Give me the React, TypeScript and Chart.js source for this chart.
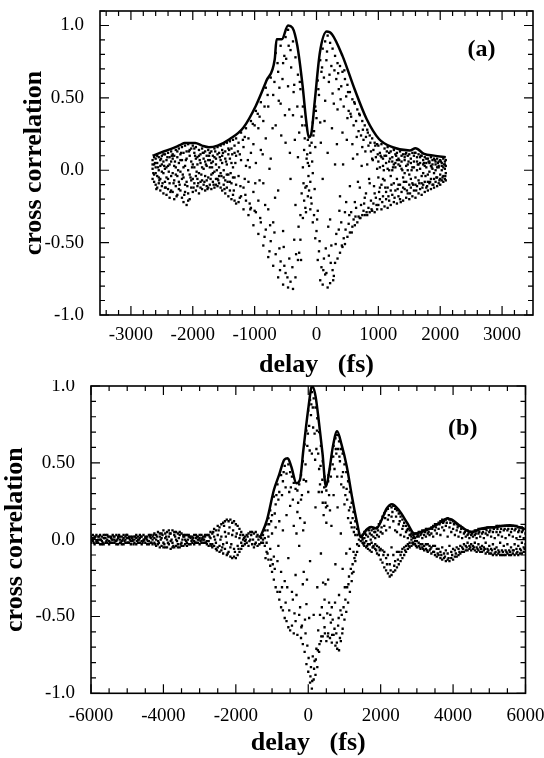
import React, { useEffect, useRef } from "react";
import { Chart, registerables } from "chart.js";

Chart.register(...registerables);

const SERIF = '"Liberation Serif", "DejaVu Serif", serif';

// ---------- Panel (a) ----------
const xTicksA = [-3000, -2000, -1000, 0, 1000, 2000, 3000];
const yTickValues = [-1, -0.5, 0, 0.5, 1];
const yTickLabels = ["-1.0", "-0.50", "0.0", "0.50", "1.0"];

// upper envelope (delay fs, correlation)
const envelopeA: number[][] = [
  [-2650, 0.1], [-2500, 0.125], [-2350, 0.147], [-2200, 0.175], [-2130, 0.188], [-1960, 0.188],
  [-1850, 0.17], [-1740, 0.159], [-1600, 0.17], [-1400, 0.216], [-1180, 0.296], [-980, 0.446],
  [-810, 0.618], [-675, 0.767], [-645, 0.905], [-560, 0.905], [-460, 1.0], [-390, 0.985],
  [-310, 0.86], [-225, 0.584], [-170, 0.354], [-125, 0.227], [-85, 0.25], [-30, 0.469],
  [55, 0.813], [165, 0.958], [250, 0.94], [420, 0.79], [615, 0.561], [810, 0.354],
  [1010, 0.216], [1230, 0.159], [1510, 0.136], [1600, 0.152], [1740, 0.113], [1900, 0.101], [2090, 0.09],
];

// sampled points: [delay, value, value, ...]
const dotsALeft: number[][] = [
  [-2650, 0.07, 0.01, -0.06, 0.04], [-2625, 0.04, -0.03, -0.08, 0.09], [-2600, 0.08, 0.02, -0.1, -0.02],
  [-2575, 0.05, -0.04, -0.12, 0.1], [-2550, 0.09, 0.0, -0.09, -0.05], [-2525, 0.03, -0.06, -0.14, 0.07],
  [-2500, 0.1, 0.04, -0.11, -0.01], [-2475, 0.06, -0.02, -0.16, 0.11], [-2450, 0.11, 0.01, -0.08, -0.12],
  [-2425, 0.07, -0.05, -0.17, 0.02], [-2400, 0.12, 0.03, -0.13, -0.06], [-2375, 0.04, -0.09, -0.19, 0.09],
  [-2350, 0.13, 0.06, -0.04, -0.14], [-2325, 0.08, -0.02, -0.15, 0.11], [-2300, 0.1, -0.07, -0.2, 0.03],
  [-2275, 0.14, 0.02, -0.11, -0.03], [-2250, 0.09, -0.04, -0.17, 0.13], [-2225, 0.15, 0.05, -0.08, -0.13],
  [-2200, 0.11, -0.01, -0.14, 0.07], [-2175, 0.16, 0.07, -0.19, -0.06], [-2150, 0.12, -0.05, -0.22, 0.02],
  [-2125, 0.17, 0.03, -0.1, -0.15], [-2100, 0.13, -0.08, -0.24, 0.08], [-2075, 0.18, 0.0, -0.16, -0.21],
  [-2050, 0.1, -0.03, -0.2, 0.14], [-2025, 0.15, 0.06, -0.12, -0.07], [-2000, 0.17, -0.06, -0.15, 0.04],
  [-1975, 0.12, 0.02, -0.09, 0.15], [-1950, 0.16, -0.04, -0.14, 0.08], [-1925, 0.09, 0.04, -0.11, -0.06],
  [-1900, 0.14, -0.02, -0.16, 0.1], [-1875, 0.11, 0.05, -0.08, -0.12], [-1850, 0.15, -0.07, -0.13, 0.02],
  [-1825, 0.08, 0.01, -0.1, 0.12], [-1800, 0.13, -0.04, -0.14, 0.06], [-1775, 0.1, 0.03, -0.07, -0.11],
  [-1750, 0.14, -0.05, -0.12, 0.07], [-1725, 0.07, 0.02, -0.1, 0.12], [-1700, 0.13, -0.03, -0.13, 0.05],
  [-1675, 0.1, 0.06, -0.08, -0.02], [-1650, 0.15, -0.01, -0.12, 0.09], [-1625, 0.08, 0.04, -0.1, -0.06],
  [-1600, 0.16, -0.06, -0.11, 0.11], [-1575, 0.12, 0.02, -0.09, -0.04], [-1550, 0.17, -0.02, -0.12, 0.07],
  [-1525, 0.1, 0.05, -0.14, 0.14], [-1500, 0.18, 0.0, -0.1, -0.05], [-1475, 0.13, -0.07, -0.16, 0.08],
  [-1450, 0.19, 0.04, -0.12, -0.03], [-1425, 0.11, -0.03, -0.18, 0.15], [-1400, 0.2, 0.08, -0.14, -0.08],
  [-1375, 0.15, -0.09, -0.2, 0.05], [-1350, 0.21, 0.02, -0.17, -0.05], [-1325, 0.12, -0.05, -0.21, 0.17],
  [-1300, 0.22, 0.1, -0.23, -0.1],
];

const dotsALeftExtra: number[][] = [
  [-2638, -0.02], [-2611, 0.05], [-2589, -0.13], [-2562, 0.02], [-2541, -0.07], [-2513, 0.08], [-2489, -0.09],
  [-2462, 0.03], [-2437, -0.12], [-2411, 0.09], [-2388, -0.01], [-2362, -0.15], [-2339, 0.1], [-2311, -0.09],
  [-2288, 0.06], [-2262, -0.18], [-2237, 0.0], [-2213, -0.1], [-2189, 0.12], [-2162, -0.03], [-2138, -0.17],
  [-2112, 0.07], [-2088, -0.11], [-2063, 0.13], [-2037, -0.05], [-2012, 0.02], [-1988, -0.12], [-1963, 0.1],
  [-1938, -0.01], [-1912, -0.09], [-1888, 0.07], [-1862, -0.03], [-1838, 0.12], [-1812, -0.08], [-1788, 0.04],
  [-1763, -0.13], [-1737, 0.1], [-1712, -0.06], [-1688, 0.02], [-1663, -0.1], [-1637, 0.13], [-1612, 0.0],
  [-1588, -0.07], [-1563, 0.09], [-1537, -0.04], [-1512, 0.12], [-1488, -0.13], [-1463, 0.06], [-1437, -0.08],
  [-1412, 0.14], [-1388, -0.02], [-1362, 0.11], [-1337, -0.14], [-1312, 0.05],
];

const dotsACenter: number[][] = [
  [-1260, 0.19, -0.04, -0.22], [-1220, 0.26, 0.07, -0.18], [-1180, 0.16, -0.12, -0.27], [-1140, 0.29, 0.03, -0.21],
  [-1100, 0.22, -0.08, -0.31], [-1060, 0.34, 0.12, -0.26], [-1020, 0.18, -0.15, -0.38], [-980, 0.41, 0.05, -0.29],
  [-940, 0.29, -0.21, -0.44], [-900, 0.47, 0.14, -0.36], [-860, 0.34, -0.09, -0.52], [-820, 0.57, 0.22, -0.41],
  [-780, 0.44, -0.27, -0.6], [-740, 0.64, 0.08, -0.49], [-700, 0.52, -0.36, -0.66], [-660, 0.81, 0.31, -0.58],
  [-620, 0.68, -0.14, -0.74], [-580, 0.86, 0.46, -0.63], [-540, 0.74, -0.42, -0.79], [-500, 0.92, 0.19, -0.71],
  [-460, 0.97, 0.58, -0.81], [-420, 0.83, -0.06, -0.77], [-380, 0.89, 0.38, -0.82], [-340, 0.78, -0.24, -0.74],
  [-300, 0.66, 0.09, -0.62], [-260, 0.56, -0.31, -0.48], [-220, 0.44, 0.02, -0.33], [-180, 0.31, -0.12, -0.26],
  [-140, 0.21, 0.05, -0.18], [-100, 0.12, -0.08, -0.27], [-60, 0.33, -0.02, -0.36], [-20, 0.44, 0.16, -0.47],
  [20, 0.62, -0.28, -0.62], [60, 0.76, 0.33, -0.76], [100, 0.84, -0.06, -0.79], [140, 0.89, 0.48, -0.72],
  [180, 0.93, 0.12, -0.81], [220, 0.88, -0.34, -0.78], [260, 0.84, 0.53, -0.69], [300, 0.79, 0.04, -0.64],
  [340, 0.74, 0.42, -0.61], [380, 0.72, -0.18, -0.57], [420, 0.68, 0.26, -0.53], [460, 0.63, -0.29, -0.51],
  [500, 0.59, 0.36, -0.46], [540, 0.54, -0.11, -0.43], [580, 0.49, 0.18, -0.39], [620, 0.46, -0.22, -0.38],
  [660, 0.42, 0.11, -0.36], [700, 0.38, -0.12, -0.33], [740, 0.34, 0.16, -0.31], [780, 0.31, -0.19, -0.31],
  [820, 0.28, 0.04, -0.31], [860, 0.24, -0.09, -0.29], [900, 0.22, 0.08, -0.28], [940, 0.19, -0.16, -0.29],
  [980, 0.18, 0.01, -0.27],
];

const dotsACenterExtra: number[][] = [
  [-1240, 0.11, -0.19], [-1160, 0.23, -0.06], [-1080, 0.02, -0.23], [-1000, 0.31, -0.28], [-920, -0.07, 0.37],
  [-840, 0.44, -0.46], [-760, 0.01, -0.56], [-680, 0.61, -0.43], [-600, 0.57, -0.54], [-520, 0.79, -0.66],
  [-440, 0.42, -0.61], [-360, 0.59, -0.48], [-280, 0.26, -0.57], [-240, 0.37, -0.16], [-200, 0.14, -0.21],
  [-160, 0.08, -0.11], [-120, 0.03, -0.14], [-80, 0.19, -0.23], [-40, 0.27, -0.31], [0, 0.36, -0.42],
  [40, 0.52, -0.56], [80, 0.68, -0.67], [120, 0.64, -0.61], [160, 0.76, -0.71], [200, 0.61, -0.59],
  [240, 0.72, -0.52], [280, 0.46, -0.73], [320, 0.63, -0.44], [360, 0.56, -0.41], [400, 0.58, -0.36],
  [440, 0.44, -0.47], [480, 0.51, -0.22], [520, 0.41, -0.37], [560, 0.37, -0.29], [600, 0.31, -0.34],
  [640, 0.34, -0.26], [680, 0.27, -0.32], [720, 0.24, -0.24], [760, 0.21, -0.28], [800, 0.23, -0.16],
  [840, 0.17, -0.26], [880, 0.13, -0.21], [920, 0.14, -0.23], [960, 0.09, -0.19],
  [-1270, 0.13], [-1230, -0.11], [-1190, 0.21], [-1150, -0.17], [-1110, 0.07], [-1070, -0.27], [-1030, 0.32],
  [-990, -0.09], [-950, 0.39], [-910, -0.33], [-870, 0.11], [-830, -0.24], [-790, 0.52], [-750, -0.38],
  [-710, 0.29], [-670, -0.19], [-630, 0.74], [-610, 0.48], [-590, -0.69], [-570, 0.24], [-550, 0.63],
  [-530, -0.53], [-510, 0.38], [-490, 0.77], [-470, -0.74], [-450, 0.86], [-430, 0.12], [-410, 0.71],
  [-390, -0.67], [-370, 0.54], [-350, 0.21], [-330, -0.58], [-310, 0.44], [-290, -0.39], [-270, 0.61],
  [-250, -0.62], [-230, 0.31], [-210, -0.09], [-190, 0.22], [-170, -0.29], [-150, 0.11], [-130, -0.04],
  [-110, 0.17], [-90, -0.19], [-70, 0.06], [-50, 0.24], [-30, -0.13], [-10, 0.41], [10, -0.34],
  [30, 0.56], [50, -0.49], [70, 0.19], [90, 0.71], [110, -0.69], [130, 0.34], [150, -0.54], [170, 0.82],
  [190, -0.39], [210, 0.66], [230, -0.64], [250, 0.29], [270, -0.76], [290, 0.69], [310, -0.51], [330, 0.18],
  [350, 0.67], [370, -0.28], [390, 0.49], [410, -0.52], [430, 0.04], [450, 0.69], [470, -0.41], [490, 0.21],
  [510, 0.54], [530, -0.31], [550, 0.39], [570, -0.43], [590, 0.08], [610, 0.47], [630, -0.32], [650, 0.23],
  [670, -0.08], [690, 0.39], [710, -0.33], [730, 0.03], [750, 0.28], [770, -0.23], [790, 0.13], [810, -0.29],
  [830, 0.26], [850, -0.06], [870, 0.19], [890, -0.27], [910, 0.07], [930, -0.11], [950, 0.17], [970, -0.24],
  [990, 0.11],
];

const dotsARight: number[][] = [
  [1000, 0.17, -0.05, -0.24, 0.06], [1025, 0.12, 0.02, -0.2, -0.12], [1050, 0.18, -0.1, -0.27, 0.09],
  [1075, 0.08, 0.03, -0.18, -0.06], [1100, 0.15, -0.07, -0.25, 0.1], [1125, 0.1, 0.05, -0.15, -0.2],
  [1150, 0.16, -0.12, -0.26, 0.01], [1175, 0.06, 0.0, -0.21, 0.12], [1200, 0.13, -0.04, -0.24, -0.14],
  [1225, 0.09, 0.06, -0.17, 0.0], [1250, 0.14, -0.09, -0.22, 0.04], [1275, 0.05, 0.02, -0.14, 0.11],
  [1300, 0.12, -0.06, -0.23, 0.07], [1325, 0.08, 0.04, -0.18, -0.1], [1350, 0.13, -0.1, -0.2, 0.03],
  [1375, 0.06, 0.01, -0.15, 0.1], [1400, 0.11, -0.05, -0.21, -0.12], [1425, 0.09, 0.07, -0.13, -0.02],
  [1450, 0.12, -0.08, -0.19, 0.03], [1475, 0.04, 0.0, -0.16, 0.1], [1500, 0.11, -0.03, -0.2, -0.1],
  [1525, 0.08, 0.05, -0.12, -0.06], [1550, 0.12, -0.09, -0.18, 0.02], [1575, 0.06, 0.02, -0.14, 0.1],
  [1600, 0.12, -0.05, -0.19, -0.1], [1625, 0.09, 0.06, -0.11, 0.0], [1650, 0.11, -0.07, -0.16, 0.04],
  [1675, 0.05, 0.01, -0.13, 0.09], [1700, 0.1, -0.04, -0.17, -0.09], [1725, 0.07, 0.04, -0.1, -0.02],
  [1750, 0.09, -0.08, -0.15, 0.03], [1775, 0.05, 0.02, -0.12, 0.08], [1800, 0.08, -0.03, -0.14, -0.08],
  [1825, 0.06, 0.05, -0.09, -0.01], [1850, 0.09, -0.06, -0.13, 0.03], [1875, 0.04, 0.01, -0.1, 0.07],
  [1900, 0.08, -0.02, -0.12, -0.06], [1925, 0.06, 0.04, -0.08, 0.0], [1950, 0.08, -0.05, -0.11, 0.02],
  [1975, 0.03, 0.02, -0.09, 0.06], [2000, 0.07, -0.03, -0.1, -0.06], [2025, 0.05, 0.03, -0.07, 0.0],
  [2050, 0.08, -0.04, -0.08, 0.02], [2075, 0.04, 0.01, -0.06, 0.06], [2090, 0.07, -0.02, -0.07, 0.03],
];

const dotsARightExtra: number[][] = [
  [1012, -0.15], [1037, 0.1], [1063, -0.22], [1088, 0.0], [1112, -0.12], [1137, 0.13], [1163, -0.18],
  [1188, 0.08], [1212, -0.1], [1237, 0.02], [1262, -0.19], [1288, 0.1], [1312, -0.13], [1337, 0.07],
  [1362, -0.22], [1388, 0.0], [1412, -0.08], [1437, 0.11], [1462, -0.14], [1488, 0.06], [1512, -0.16],
  [1537, 0.0], [1562, -0.1], [1588, 0.12], [1612, -0.14], [1637, 0.04], [1662, -0.09], [1688, 0.1],
  [1712, -0.12], [1737, 0.05], [1762, -0.04], [1788, -0.11], [1812, 0.06], [1837, -0.08], [1862, 0.02],
  [1888, -0.1], [1912, 0.07], [1937, -0.05], [1962, 0.05], [1987, -0.07], [2012, 0.06], [2037, -0.05],
  [2062, 0.04], [2082, -0.04],
];

// ---------- Panel (b) ----------
const xTicksB = [-6000, -4000, -2000, 0, 2000, 4000, 6000];

const envelopeB: number[][] = [
  [-1313, 0.022], [-1141, 0.127], [-949, 0.323], [-805, 0.421], [-662, 0.52], [-566, 0.53],
  [-470, 0.476], [-326, 0.367], [-230, 0.389], [-134, 0.585], [10, 0.869], [105, 1.0],
  [201, 0.934], [297, 0.76], [393, 0.563], [489, 0.345], [585, 0.454], [681, 0.607],
  [796, 0.705], [920, 0.618], [1064, 0.476], [1208, 0.279], [1352, 0.105], [1448, 0.017],
  [1592, 0.061], [1735, 0.083], [1879, 0.072], [2023, 0.127], [2167, 0.203], [2311, 0.231],
  [2502, 0.192], [2742, 0.105], [2934, 0.039], [3126, 0.05], [3365, 0.072], [3605, 0.105],
  [3845, 0.138], [3989, 0.127], [4228, 0.083], [4516, 0.05], [4803, 0.072], [5187, 0.083],
  [5570, 0.094], [5954, 0.072],
];

const dotsBLeft: number[][] = [
  [-6000, 0.02, -0.02, 0.0], [-5950, -0.01, 0.03, 0.01], [-5900, 0.01, -0.03, 0.02], [-5850, 0.03, -0.01, -0.02],
  [-5800, -0.02, 0.02, 0.0], [-5750, 0.0, -0.03, 0.03], [-5700, 0.02, -0.01, -0.03], [-5650, -0.03, 0.03, 0.01],
  [-5600, 0.01, -0.02, 0.03], [-5550, 0.03, 0.0, -0.02], [-5500, -0.01, -0.03, 0.02], [-5450, 0.02, 0.01, -0.02],
  [-5400, -0.02, 0.03, 0.0], [-5350, 0.0, -0.02, 0.02], [-5300, 0.03, -0.01, -0.03], [-5250, -0.03, 0.01, 0.02],
  [-5200, 0.02, -0.02, 0.0], [-5150, -0.01, 0.02, -0.03], [-5100, 0.01, -0.03, 0.03], [-5050, 0.02, 0.0, -0.02],
  [-5000, -0.02, 0.01, 0.03], [-4950, 0.01, -0.02, 0.02], [-4900, -0.01, 0.02, -0.03], [-4850, 0.02, -0.01, 0.0],
  [-4800, -0.02, 0.0, 0.02], [-4750, 0.01, -0.03, 0.03], [-4700, 0.0, 0.02, -0.02], [-4650, -0.02, 0.01, 0.03],
  [-4600, 0.02, -0.01, -0.03], [-4550, -0.01, 0.03, 0.0], [-4500, 0.01, -0.02, 0.02], [-4450, -0.03, 0.02, 0.0],
  [-4400, 0.03, -0.01, -0.03], [-4350, -0.02, 0.01, 0.03], [-4300, 0.02, -0.03, 0.0], [-4250, 0.04, -0.02, 0.01],
  [-4200, -0.04, 0.03, 0.0], [-4150, 0.05, -0.01, -0.03], [-4100, -0.05, 0.02, 0.04], [-4050, 0.04, -0.04, 0.01],
  [-4000, 0.06, -0.02, -0.05], [-3950, -0.05, 0.01, 0.04], [-3900, 0.05, -0.05, 0.0], [-3850, -0.03, 0.06, 0.02],
  [-3800, 0.04, -0.06, -0.01], [-3750, 0.06, -0.02, -0.05], [-3700, -0.05, 0.03, 0.05], [-3650, 0.05, -0.04, 0.0],
  [-3600, -0.03, 0.04, -0.05], [-3550, 0.03, -0.05, 0.05], [-3500, 0.04, -0.02, -0.04], [-3450, -0.04, 0.02, 0.03],
  [-3400, 0.03, -0.03, 0.0], [-3350, -0.02, 0.03, -0.04], [-3300, 0.02, -0.03, 0.03], [-3250, -0.03, 0.01, 0.02],
  [-3200, 0.02, -0.02, 0.0], [-3150, -0.01, 0.03, -0.03], [-3100, 0.03, -0.02, 0.01], [-3050, -0.02, 0.02, 0.0],
  [-3000, 0.01, -0.03, 0.03], [-2950, 0.03, 0.0, -0.02], [-2900, -0.02, 0.02, 0.0], [-2850, 0.02, -0.02, 0.03],
  [-2800, -0.01, 0.03, -0.03],
];

const dotsBLeftExtra: number[][] = [
  [-5975, 0.0], [-5925, -0.02], [-5875, 0.02], [-5825, -0.01], [-5775, 0.02], [-5725, 0.0], [-5675, -0.02],
  [-5625, 0.01], [-5575, -0.01], [-5525, 0.02], [-5475, -0.02], [-5425, 0.0], [-5375, 0.02], [-5325, -0.01],
  [-5275, 0.0], [-5225, 0.03], [-5175, -0.02], [-5125, 0.0], [-5075, -0.01], [-5025, 0.03], [-4975, -0.02],
  [-4925, 0.0], [-4875, 0.01], [-4825, -0.03], [-4775, 0.02], [-4725, -0.01], [-4675, 0.0], [-4625, 0.02],
  [-4575, -0.02], [-4525, 0.0], [-4475, 0.01], [-4425, -0.01], [-4375, 0.02], [-4325, -0.02], [-4275, 0.03],
  [-4225, -0.03], [-4175, 0.02], [-4125, -0.02], [-4075, 0.0], [-4025, 0.03], [-3975, -0.03], [-3925, 0.02],
  [-3875, -0.02], [-3825, 0.04], [-3775, 0.0], [-3725, -0.04], [-3675, 0.02], [-3625, -0.01], [-3575, 0.01],
  [-3525, -0.03], [-3475, 0.0], [-3425, 0.02], [-3375, -0.01], [-3325, 0.0], [-3275, 0.02], [-3225, -0.01],
  [-3175, 0.01], [-3125, -0.02], [-3075, 0.02], [-3025, 0.0], [-2975, -0.01], [-2925, 0.01], [-2875, 0.0],
  [-2825, -0.02],
];

const dotsBBump: number[][] = [
  [-2750, 0.03, -0.01, -0.04], [-2700, 0.05, 0.01, -0.03], [-2650, 0.04, -0.03, -0.05], [-2600, 0.07, 0.02, -0.04],
  [-2550, 0.06, -0.02, -0.06], [-2500, 0.09, 0.03, -0.05], [-2450, 0.08, -0.04, -0.08], [-2400, 0.1, 0.02, -0.07],
  [-2350, 0.11, -0.03, -0.09], [-2300, 0.12, 0.05, -0.06], [-2250, 0.13, -0.02, -0.1], [-2200, 0.12, 0.04, -0.08],
  [-2150, 0.13, -0.05, -0.11], [-2100, 0.11, 0.03, -0.12], [-2050, 0.12, -0.06, -0.11], [-2000, 0.1, 0.02, -0.12],
  [-1950, 0.09, -0.04, -0.1], [-1900, 0.07, 0.01, -0.08], [-1850, 0.05, -0.02, -0.06], [-1800, 0.03, 0.0, -0.04],
  [-1750, 0.02, -0.01, -0.03], [-1700, 0.03, -0.02], [-1650, 0.04, -0.04], [-1600, 0.05, 0.0],
  [-1550, -0.03, 0.05], [-1500, 0.04, -0.05], [-1450, 0.05, -0.02], [-1400, -0.04, 0.03],
  [-1350, 0.02, -0.03], [-1300, 0.01, -0.02],
  [-2725, 0.02], [-2675, -0.04], [-2625, 0.05], [-2575, 0.0], [-2525, -0.07], [-2475, 0.06], [-2425, 0.0],
  [-2375, -0.05], [-2325, 0.09], [-2275, 0.02], [-2225, -0.09], [-2175, 0.08], [-2125, -0.03], [-2075, 0.06],
  [-2025, -0.08], [-1975, 0.04], [-1925, -0.06], [-1875, 0.03], [-1825, -0.04], [-1775, 0.01], [-1725, 0.0],
  [-1675, 0.02], [-1625, -0.01], [-1575, 0.03], [-1525, 0.0], [-1475, -0.03], [-1425, 0.02], [-1375, 0.0],
  [-1325, 0.02],
];

const dotsBCenter: number[][] = [
  [-1250, 0.03, -0.02, 0.0], [-1200, 0.06, -0.04, 0.01], [-1150, 0.1, -0.08, -0.02], [-1100, 0.14, 0.02, -0.13],
  [-1050, 0.19, -0.06, -0.17], [-1000, 0.16, 0.04, -0.21], [-950, 0.28, -0.11, -0.26], [-900, 0.23, 0.08, -0.31],
  [-850, 0.36, -0.14, -0.34], [-800, 0.31, 0.12, -0.39], [-750, 0.42, -0.21, -0.44], [-700, 0.38, 0.06, -0.46],
  [-650, 0.48, -0.27, -0.51], [-600, 0.43, 0.16, -0.53], [-550, 0.49, -0.12, -0.57], [-500, 0.44, 0.22, -0.59],
  [-450, 0.41, -0.34, -0.56], [-400, 0.37, 0.09, -0.61], [-350, 0.33, -0.23, -0.53], [-300, 0.32, 0.18, -0.62],
  [-250, 0.36, -0.04, -0.49], [-200, 0.42, 0.26, -0.64], [-150, 0.51, -0.29, -0.68], [-100, 0.62, 0.11, -0.73],
  [-50, 0.71, -0.42, -0.81], [0, 0.84, 0.31, -0.86], [50, 0.91, -0.14, -0.93], [100, 0.96, 0.56, -0.97],
  [150, 0.92, -0.49, -0.91], [200, 0.86, 0.21, -0.88], [250, 0.79, -0.31, -0.83], [300, 0.7, 0.46, -0.73],
  [350, 0.61, -0.09, -0.66], [400, 0.51, 0.24, -0.63], [450, 0.41, -0.39, -0.57], [500, 0.32, 0.11, -0.66],
  [550, 0.38, -0.26, -0.61], [600, 0.46, 0.19, -0.64], [650, 0.54, -0.44, -0.67], [700, 0.61, 0.29, -0.62],
  [750, 0.66, -0.16, -0.69], [800, 0.68, 0.41, -0.71], [850, 0.64, -0.36, -0.72], [900, 0.59, 0.04, -0.66],
  [950, 0.56, -0.19, -0.58], [1000, 0.49, 0.23, -0.52], [1050, 0.44, -0.09, -0.47], [1100, 0.38, 0.14, -0.41],
  [1150, 0.31, -0.06, -0.34], [1200, 0.24, 0.08, -0.27], [1250, 0.18, -0.08, -0.21], [1300, 0.12, 0.03, -0.14],
  [1350, 0.07, -0.03, -0.08], [1400, 0.04, 0.0, -0.04], [1450, 0.02, -0.01],
];

const dotsBCenterExtra: number[][] = [
  [-1125, 0.06, -0.09], [-1025, 0.12, -0.13], [-925, 0.17, -0.19], [-825, -0.04, 0.26], [-725, 0.29, -0.31],
  [-625, 0.34, -0.41], [-525, 0.31, -0.46], [-425, 0.26, -0.39], [-325, 0.04, -0.36], [-225, 0.14, -0.44],
  [-175, 0.29, -0.56], [-125, 0.39, -0.21], [-75, 0.49, -0.61], [-25, 0.61, -0.69], [25, 0.74, -0.51],
  [75, 0.81, -0.83], [125, 0.86, -0.76], [175, 0.69, -0.79], [225, 0.59, -0.71], [275, 0.56, -0.59],
  [325, 0.36, -0.49], [375, 0.31, -0.44], [425, 0.16, -0.51], [475, 0.24, -0.29], [525, 0.22, -0.48],
  [575, 0.29, -0.41], [625, 0.41, -0.54], [675, 0.49, -0.52], [725, 0.46, -0.58], [775, 0.56, -0.61],
  [825, 0.59, -0.56], [875, 0.51, -0.64], [925, 0.41, -0.49], [975, 0.34, -0.44], [1025, 0.29, -0.39],
  [1075, 0.26, -0.31], [1125, 0.19, -0.24], [1175, 0.11, -0.19], [1225, 0.14, -0.16], [1275, 0.08, -0.12],
  [-1180, -0.12], [-1080, 0.1], [-980, -0.16], [-880, 0.29], [-780, -0.34], [-680, 0.44], [-580, -0.31],
  [-480, 0.34], [-380, -0.48], [-280, 0.24], [-190, -0.57], [-140, 0.06], [-90, -0.52], [-60, 0.38],
  [-35, -0.26], [-10, 0.69], [10, -0.77], [40, 0.58], [60, -0.89], [85, 0.88], [110, -0.92], [135, 0.73],
  [160, -0.84], [190, 0.52], [210, -0.78], [240, 0.71], [265, -0.72], [290, 0.31], [310, -0.68], [340, 0.48],
  [360, -0.63], [390, 0.39], [410, -0.28], [440, 0.34], [460, -0.61], [490, 0.21], [540, -0.63], [560, 0.42],
  [610, -0.49], [640, 0.09], [660, -0.62], [690, 0.54], [740, -0.41], [760, 0.59], [790, -0.67], [810, 0.21],
  [840, -0.51], [860, 0.54], [890, -0.46], [910, 0.36], [940, -0.61], [960, 0.44], [1010, -0.31], [1060, 0.33],
  [1110, -0.29], [1160, 0.21], [1210, -0.22], [1260, 0.05], [1310, -0.1], [1360, 0.03],
];

const dotsBRight: number[][] = [
  [1500, 0.03, -0.02, 0.0, 0.01], [1550, 0.05, -0.04, 0.01, -0.02], [1600, 0.06, -0.05, -0.01, 0.03],
  [1650, 0.07, 0.02, -0.06, -0.03], [1700, 0.08, -0.03, -0.07, 0.04], [1750, 0.06, 0.03, -0.08, -0.02],
  [1800, 0.07, -0.05, -0.04, 0.02], [1850, 0.05, 0.01, -0.06, -0.03], [1900, 0.08, -0.04, -0.09, 0.03],
  [1950, 0.1, 0.02, -0.1, -0.05], [2000, 0.12, -0.06, -0.13, 0.05], [2050, 0.15, 0.04, -0.15, -0.07],
  [2100, 0.17, -0.08, -0.18, 0.09], [2150, 0.19, 0.06, -0.2, -0.12], [2200, 0.2, -0.1, -0.22, 0.13],
  [2250, 0.22, 0.08, -0.24, -0.16], [2300, 0.21, -0.05, -0.23, 0.15], [2350, 0.22, 0.12, -0.21, -0.1],
  [2400, 0.2, -0.14, -0.2, 0.06], [2450, 0.19, 0.05, -0.18, -0.08], [2500, 0.17, -0.08, -0.16, 0.1],
  [2550, 0.15, 0.03, -0.14, -0.1], [2600, 0.13, -0.06, -0.12, 0.07], [2650, 0.11, 0.02, -0.1, -0.05],
  [2700, 0.09, -0.04, -0.08, 0.05], [2750, 0.07, 0.01, -0.06, -0.03], [2800, 0.06, -0.02, -0.05, 0.03],
  [2850, 0.04, 0.0, -0.04, 0.02], [2900, 0.03, -0.02, -0.03, 0.01], [2950, 0.04, 0.01, -0.03, -0.01],
  [3000, 0.04, -0.01, -0.05, 0.02], [3050, 0.05, 0.02, -0.04, -0.02], [3100, 0.05, -0.03, -0.06, 0.03],
  [3150, 0.06, 0.01, -0.05, -0.03], [3200, 0.06, -0.04, -0.07, 0.03], [3250, 0.07, 0.02, -0.06, -0.03],
  [3300, 0.07, -0.03, -0.08, 0.04], [3350, 0.07, 0.03, -0.07, -0.04], [3400, 0.08, -0.05, -0.09, 0.04],
  [3450, 0.09, 0.02, -0.08, -0.04], [3500, 0.1, -0.04, -0.1, 0.06], [3550, 0.1, 0.04, -0.11, -0.06],
  [3600, 0.11, -0.06, -0.1, 0.07], [3650, 0.12, 0.03, -0.12, -0.08], [3700, 0.13, -0.05, -0.13, 0.08],
  [3750, 0.12, 0.06, -0.12, -0.09], [3800, 0.13, -0.07, -0.14, 0.09], [3850, 0.14, 0.02, -0.13, -0.09],
  [3900, 0.13, -0.04, -0.14, 0.08], [3950, 0.13, 0.05, -0.12, -0.08], [4000, 0.12, -0.06, -0.13, 0.07],
  [4050, 0.11, 0.03, -0.11, -0.07], [4100, 0.1, -0.05, -0.11, 0.06], [4150, 0.09, 0.02, -0.1, -0.06],
  [4200, 0.09, -0.04, -0.09, 0.05], [4250, 0.08, 0.01, -0.08, -0.05], [4300, 0.07, -0.03, -0.08, 0.04],
  [4350, 0.06, 0.02, -0.07, -0.04], [4400, 0.06, -0.02, -0.07, 0.03], [4450, 0.05, 0.01, -0.06, -0.04],
  [4500, 0.05, -0.03, -0.07, 0.03], [4550, 0.05, 0.02, -0.06, -0.04], [4600, 0.06, -0.02, -0.07, 0.03],
  [4650, 0.06, 0.01, -0.08, -0.05], [4700, 0.07, -0.03, -0.07, 0.04], [4750, 0.07, 0.02, -0.08, -0.05],
  [4800, 0.07, -0.04, -0.08, 0.04], [4850, 0.07, 0.01, -0.07, -0.05], [4900, 0.07, -0.02, -0.09, 0.04],
  [4950, 0.08, 0.03, -0.08, -0.06], [5000, 0.08, -0.04, -0.09, 0.05], [5050, 0.08, 0.02, -0.09, -0.06],
  [5100, 0.08, -0.03, -0.1, 0.05], [5150, 0.08, 0.01, -0.09, -0.06], [5200, 0.09, -0.05, -0.1, 0.05],
  [5250, 0.09, 0.03, -0.09, -0.07], [5300, 0.09, -0.02, -0.1, 0.05], [5350, 0.09, 0.02, -0.1, -0.07],
  [5400, 0.09, -0.04, -0.1, 0.06], [5450, 0.09, 0.01, -0.1, -0.07], [5500, 0.09, -0.03, -0.09, 0.06],
  [5550, 0.09, 0.03, -0.1, -0.07], [5600, 0.09, -0.05, -0.1, 0.05], [5650, 0.09, 0.02, -0.09, -0.07],
  [5700, 0.09, -0.03, -0.1, 0.06], [5750, 0.09, 0.01, -0.09, -0.06], [5800, 0.08, -0.04, -0.1, 0.05],
  [5850, 0.08, 0.02, -0.09, -0.06], [5900, 0.08, -0.02, -0.09, 0.05], [5950, 0.07, 0.01, -0.08, -0.05],
  [6000, 0.07, -0.03, -0.08, 0.04],
];

const dotsBRightExtra: number[][] = [
  [1525, -0.03], [1575, 0.04], [1625, -0.04], [1675, 0.06], [1725, 0.0], [1775, -0.05], [1825, 0.05],
  [1875, -0.07], [1925, 0.06], [1975, -0.07], [2025, 0.08], [2075, -0.1], [2125, 0.14], [2175, -0.16],
  [2225, 0.16], [2275, -0.2], [2325, 0.18], [2375, -0.17], [2425, 0.15], [2475, -0.13], [2525, 0.12],
  [2575, -0.08], [2625, 0.09], [2675, -0.07], [2725, 0.06], [2775, -0.04], [2825, 0.03], [2875, -0.02],
  [2925, 0.02], [2975, -0.04], [3025, 0.03], [3075, -0.05], [3125, 0.04], [3175, -0.06], [3225, 0.05],
  [3275, -0.07], [3325, 0.05], [3375, -0.06], [3425, 0.07], [3475, -0.08], [3525, 0.08], [3575, -0.09],
  [3625, 0.1], [3675, -0.1], [3725, 0.11], [3775, -0.11], [3825, 0.11], [3875, -0.12], [3925, 0.11],
  [3975, -0.1], [4025, 0.1], [4075, -0.09], [4125, 0.08], [4175, -0.08], [4225, 0.07], [4275, -0.06],
  [4325, 0.05], [4375, -0.05], [4425, 0.04], [4475, -0.05], [4525, 0.04], [4575, -0.05], [4625, 0.04],
  [4675, -0.06], [4725, 0.05], [4775, -0.06], [4825, 0.05], [4875, -0.06], [4925, 0.06], [4975, -0.07],
  [5025, 0.06], [5075, -0.07], [5125, 0.07], [5175, -0.08], [5225, 0.07], [5275, -0.08], [5325, 0.07],
  [5375, -0.08], [5425, 0.07], [5475, -0.08], [5525, 0.07], [5575, -0.08], [5625, 0.07], [5675, -0.07],
  [5725, 0.07], [5775, -0.08], [5825, 0.06], [5875, -0.07], [5925, 0.06], [5975, -0.06],
];

// ---------- helpers ----------
const rowsToPoints = (...groups: number[][][]) =>
  groups.flatMap((rows) => rows.flatMap(([x, ...ys]) => ys.map((y) => ({ x, y }))));
const pairsToPoints = (rows: number[][]) => rows.map(([x, y]) => ({ x, y }));

interface PanelSpec {
  height: number;
  xMin: number; xMax: number; yMin: number; yMax: number;
  xTicks: number[];
  xMinor: number; xMajor: number;
  envelope: number[][];
  dots: { x: number; y: number }[];
  label: string; labelX: number; labelY: number;
  padTop: number; padRight: number;
  yAxisWidth: number; xAxisHeight: number;
  xTickPad: number; yTitlePad: number; xTitlePad: number;
}

const panels: PanelSpec[] = [
  {
    height: 380,
    xMin: -3500, xMax: 3500, yMin: -1, yMax: 1.1,
    xTicks: xTicksA, xMinor: 200, xMajor: 1000,
    envelope: envelopeA,
    dots: rowsToPoints(dotsALeft, dotsALeftExtra, dotsACenter, dotsACenterExtra, dotsARight, dotsARightExtra),
    label: "(a)", labelX: 2666, labelY: 0.83,
    padTop: 11, padRight: 11, yAxisWidth: 100, xAxisHeight: 65,
    xTickPad: 9, yTitlePad: 21, xTitlePad: 2,
  },
  {
    height: 378,
    xMin: -6000, xMax: 6000, yMin: -1, yMax: 1,
    xTicks: xTicksB, xMinor: 500, xMajor: 2000,
    envelope: envelopeB,
    dots: rowsToPoints(dotsBLeft, dotsBLeftExtra, dotsBBump, dotsBCenter, dotsBCenterExtra, dotsBRight, dotsBRightExtra),
    label: "(b)", labelX: 4268, labelY: 0.72,
    padTop: 6, padRight: 18.5, yAxisWidth: 91, xAxisHeight: 64.7,
    xTickPad: 11, yTitlePad: 2, xTitlePad: 2,
  },
];

const isMultiple = (v: number, step: number) => Math.abs(v / step - Math.round(v / step)) < 1e-6;

function framePlugin(spec: PanelSpec) {
  return {
    id: "frameTicks",
    afterDatasetsDraw(chart: any) {
      const { ctx, chartArea } = chart;
      const { left, right, top, bottom } = chartArea;
      const xs = chart.scales.x;
      const ys = chart.scales.y;
      ctx.save();
      ctx.strokeStyle = "#000";
      ctx.lineWidth = 1.2;
      ctx.beginPath();
      for (let i = Math.ceil(spec.xMin / spec.xMinor); i <= Math.floor(spec.xMax / spec.xMinor); i++) {
        const v = i * spec.xMinor;
        const len = isMultiple(v, spec.xMajor) ? 9 : 5;
        const px = xs.getPixelForValue(v);
        ctx.moveTo(px, bottom); ctx.lineTo(px, bottom - len);
        ctx.moveTo(px, top); ctx.lineTo(px, top + len);
      }
      for (let i = Math.ceil(spec.yMin / 0.1 - 1e-6); i <= Math.floor(spec.yMax / 0.1 + 1e-6); i++) {
        const v = i * 0.1;
        const len = isMultiple(v, 0.5) ? 9 : 5;
        const py = ys.getPixelForValue(v);
        ctx.moveTo(left, py); ctx.lineTo(left + len, py);
        ctx.moveTo(right, py); ctx.lineTo(right - len, py);
      }
      ctx.stroke();
      ctx.lineWidth = 1.6;
      ctx.strokeRect(left, top, right - left, bottom - top);
      ctx.fillStyle = "#000";
      ctx.font = `bold 24px ${SERIF}`;
      ctx.textAlign = "center";
      ctx.textBaseline = "middle";
      ctx.fillText(spec.label, xs.getPixelForValue(spec.labelX), ys.getPixelForValue(spec.labelY));
      ctx.restore();
    },
  };
}

function makeConfig(spec: PanelSpec): any {
  return {
    type: "scatter",
    data: {
      datasets: [
        {
          type: "line",
          data: pairsToPoints(spec.envelope),
          borderColor: "#000",
          borderWidth: 2.5,
          pointRadius: 0,
          fill: false,
          cubicInterpolationMode: "monotone",
          showLine: true,
        },
        {
          data: spec.dots,
          pointStyle: "rect",
          pointRadius: 1.65,
          backgroundColor: "#000",
          borderWidth: 0,
          showLine: false,
        },
      ],
    },
    options: {
      animation: false,
      responsive: false,
      devicePixelRatio: 1,
      events: [],
      layout: { padding: { top: spec.padTop, right: spec.padRight, left: 0, bottom: 0 } },
      plugins: { legend: { display: false }, tooltip: { enabled: false } },
      scales: {
        x: {
          type: "linear",
          min: spec.xMin,
          max: spec.xMax,
          grid: { display: false, drawTicks: false },
          border: { display: false },
          afterBuildTicks: (s: any) => { s.ticks = spec.xTicks.map((v) => ({ value: v })); },
          afterFit: (s: any) => { s.height = spec.xAxisHeight; s.paddingLeft = 0; s.paddingRight = 0; },
          ticks: {
            font: { family: SERIF, size: 19 },
            color: "#000",
            padding: spec.xTickPad,
            maxRotation: 0,
            autoSkip: false,
            callback: (v: number) => String(v),
          },
          title: {
            display: true,
            text: "delay   (fs)",
            color: "#000",
            font: { family: SERIF, size: 26, weight: "bold", lineHeight: 1 },
            padding: { top: 0, bottom: spec.xTitlePad },
          },
        },
        y: {
          type: "linear",
          min: spec.yMin,
          max: spec.yMax,
          grid: { display: false, drawTicks: false },
          border: { display: false },
          afterBuildTicks: (s: any) => { s.ticks = yTickValues.map((v) => ({ value: v })); },
          afterFit: (s: any) => { s.width = spec.yAxisWidth; s.paddingTop = 0; s.paddingBottom = 0; },
          ticks: {
            font: { family: SERIF, size: 19 },
            color: "#000",
            padding: 16,
            autoSkip: false,
            callback: (v: number) => {
              const i = yTickValues.findIndex((t) => Math.abs(t - v) < 1e-9);
              return i >= 0 ? yTickLabels[i] : "";
            },
          },
          title: {
            display: true,
            text: "cross correlation",
            color: "#000",
            font: { family: SERIF, size: 26, weight: "bold", lineHeight: 1 },
            padding: { top: spec.yTitlePad, bottom: 0 },
          },
        },
      },
    },
    plugins: [framePlugin(spec)],
  };
}

function Panel({ spec, top }: { spec: PanelSpec; top: number }) {
  const ref = useRef<HTMLCanvasElement>(null);
  useEffect(() => {
    if (!ref.current) return;
    const chart = new Chart(ref.current, makeConfig(spec));
    return () => chart.destroy();
  }, [spec]);
  return (
    <div style={{ position: "absolute", left: 0, top, width: 544, height: spec.height }}>
      <canvas ref={ref} width={544} height={spec.height} style={{ display: "block", width: 544, height: spec.height }} />
    </div>
  );
}

export default function App() {
  return (
    <div style={{ position: "absolute", left: 0, top: 0, width: 544, height: 758, background: "#fff", overflow: "hidden" }}>
      <Panel spec={panels[0]} top={0} />
      <Panel spec={panels[1]} top={380} />
    </div>
  );
}
